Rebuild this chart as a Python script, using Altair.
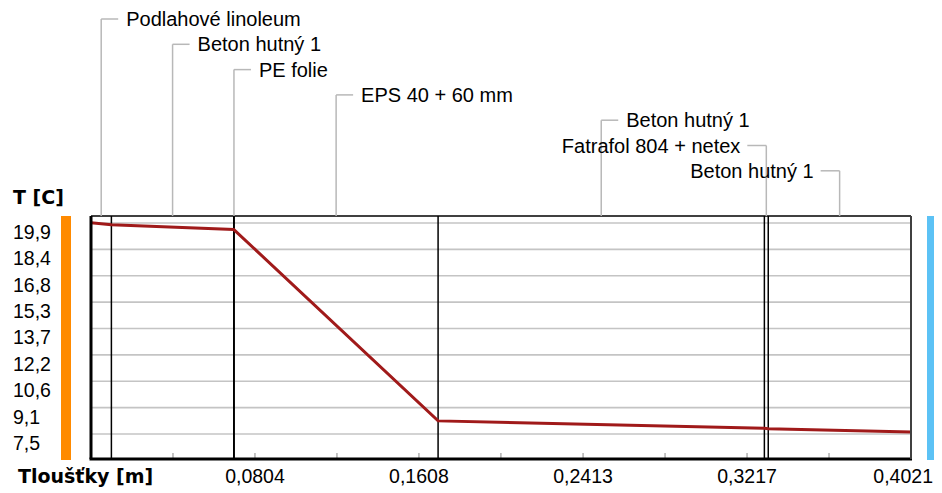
import altair as alt
import pandas as pd

# ---------------- data ----------------
layer_names = ["Podlahové linoleum", "Beton hutný 1", "PE folie", "EPS 40 + 60 mm",
               "Beton hutný 1", "Fatrafol 804 + netex", "Beton hutný 1"]
layer_thickness = [0.010, 0.060, 0.0002, 0.100, 0.160, 0.0019, 0.070]

profile_x = [0.0, 0.010, 0.070, 0.0702, 0.1702, 0.3302, 0.3321, 0.4021]
profile_t = [19.92, 19.80, 19.52, 19.50, 8.27, 7.84, 7.81, 7.62]

y_ticks = [19.9, 18.35, 16.8, 15.25, 13.7, 12.15, 10.6, 9.05, 7.5]
y_labels = ["19,9", "18,4", "16,8", "15,3", "13,7", "12,2", "10,6", "9,1", "7,5"]
x_minor = [0.0402, 0.0804, 0.1206, 0.1608, 0.2010, 0.2413, 0.2815, 0.3217, 0.3619]
x_major = [0.0804, 0.1608, 0.2413, 0.3217, 0.4021]
x_labels = ["0,0804", "0,1608", "0,2413", "0,3217", "0,4021"]

y_title = "T [C]"
x_title = "Tloušťky [m]"

# ---------------- tables ----------------
starts, ends = [], []
acc = 0.0
for t in layer_thickness:
    starts.append(acc)
    acc += t
    ends.append(acc)

layers_df = pd.DataFrame({
    "name": layer_names,
    "mid": [s + t / 2 for s, t in zip(starts, layer_thickness)],
})
bounds_df = pd.DataFrame({"x": ends[:-1]})
profile_df = pd.DataFrame({"x": profile_x, "t": profile_t})
ygrid_df = pd.DataFrame({"t": y_ticks, "label": y_labels})
xminor_df = pd.DataFrame({"x": x_minor})
xmajor_df = pd.DataFrame({"x": x_major, "label": x_labels})

W, H = 820, 243
xs = alt.Scale(domain=[0, 0.4021], nice=False, zero=False)
ys = alt.Scale(domain=[6.03, 20.31], nice=False, zero=False)
X = lambda f: alt.X(f, type="quantitative", scale=xs, axis=None)
Y = lambda f: alt.Y(f, type="quantitative", scale=ys, axis=None)

REG = "Liberation Sans"
BOLD = "DejaVu Sans"
GRID = "#c4c4c4"
LEAD = "#b8b8b8"

base_one = alt.Chart(pd.DataFrame({"a": [0]}))

grid = alt.Chart(ygrid_df).mark_rule(color=GRID, strokeWidth=1.6).encode(
    y=Y("t"), x=alt.value(0), x2=alt.value(W))
minor = alt.Chart(xminor_df).mark_rule(color="#b0b0b0", strokeWidth=1.5).encode(
    x=X("x"), y=alt.value(H - 6), y2=alt.value(H))
bounds = alt.Chart(bounds_df).mark_rule(color="black", strokeWidth=1.5).encode(
    x=X("x"), y=alt.value(0), y2=alt.value(H))
line = alt.Chart(profile_df).mark_line(color="#a01a1a", strokeWidth=3).encode(
    x=X("x"), y=Y("t"))

b_left = base_one.mark_rule(color="black", strokeWidth=3).encode(
    x=alt.value(0), y=alt.value(0), y2=alt.value(H))
b_bottom = base_one.mark_rule(color="black", strokeWidth=3).encode(
    x=alt.value(-1.5), x2=alt.value(W + 1), y=alt.value(H))
b_top = base_one.mark_rule(color="black", strokeWidth=1.5).encode(
    x=alt.value(0), x2=alt.value(W), y=alt.value(0))
b_right = base_one.mark_rule(color="#404040", strokeWidth=2).encode(
    x=alt.value(W), y=alt.value(0), y2=alt.value(H))

bar_in = base_one.mark_rect(color="#ff8a00").encode(
    x=alt.value(-30), x2=alt.value(-20), y=alt.value(0), y2=alt.value(H + 1))
bar_out = base_one.mark_rect(color="#5cc2f5").encode(
    x=alt.value(W + 16), x2=alt.value(W + 23), y=alt.value(0), y2=alt.value(H + 1))

ylab = alt.Chart(ygrid_df).mark_text(font=REG, fontSize=19.5, align="left",
                                      baseline="middle", dy=10, color="black").encode(
    y=Y("t"), x=alt.value(-78), text="label:N")
xlab = alt.Chart(xmajor_df.iloc[:-1]).mark_text(font=REG, fontSize=19.5, align="center",
                                                 baseline="middle", color="black").encode(
    x=X("x"), y=alt.value(H + 18), text="label:N")
xlab_last = alt.Chart(xmajor_df.iloc[-1:]).mark_text(font=REG, fontSize=19.5, align="right",
                                                      dx=22, baseline="middle",
                                                      color="black").encode(
    x=X("x"), y=alt.value(H + 18), text="label:N")

ytitle = base_one.mark_text(font=BOLD, fontWeight="bold", fontSize=19, align="left",
                            baseline="middle", color="black").encode(
    x=alt.value(-78), y=alt.value(-18), text=alt.value(y_title))
xtitle = base_one.mark_text(font=BOLD, fontWeight="bold", fontSize=19, align="left",
                            baseline="middle", color="black").encode(
    x=alt.value(-73), y=alt.value(H + 18), text=alt.value(x_title))

# leader labels above the plot
leaders = []
top_abs = 216
for i in range(len(layer_names)):
    ly = 19 + 25.3 * i - top_abs
    sub = alt.Chart(layers_df.iloc[[i]])
    right = layers_df["mid"].iloc[i] < 0.3
    leaders.append(sub.mark_rule(color=LEAD, strokeWidth=1.5).encode(
        x=X("mid"), y=alt.value(ly), y2=alt.value(0)))
    leaders.append(sub.mark_rule(color=LEAD, strokeWidth=1.5,
                                 x2Offset=17 if right else -19).encode(
        x=X("mid"), x2=alt.X2("mid"), y=alt.value(ly)))
    leaders.append(sub.mark_text(font=REG, fontSize=20, color="black",
                                 align="left" if right else "right",
                                 dx=25 if right else -26, baseline="middle", dy=1).encode(
        x=X("mid"), y=alt.value(ly), text="name:N"))

chart = alt.layer(
    grid, minor, bounds, line, b_left, b_bottom, b_top, b_right,
    bar_in, bar_out, ylab, xlab, xlab_last, ytitle, xtitle, *leaders
).properties(
    width=W, height=H,
    autosize=alt.AutoSizeParams(type="none"),
    padding={"left": 83, "top": 208, "right": 23, "bottom": 32},
).configure_view(stroke=None)

chart.save("out.html", embed_options={"renderer": "svg", "actions": False})
